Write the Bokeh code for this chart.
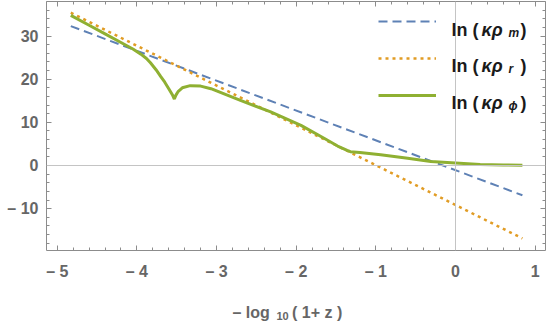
import numpy as np
from bokeh.plotting import figure
from bokeh.models import (Range1d, FixedTicker, LinearAxis, Span, Label,
                          Legend, LegendItem, CustomJSTickFormatter)
from bokeh.embed import file_html
from bokeh.resources import INLINE

# ---------------- data ----------------
x_m = [-4.83, 0.84]
y_m = [32.3, -6.9]

x_r = [-4.83, 0.84]
y_r = [35.4, -16.9]

x_phi = [-4.83, -4.60, -4.40, -4.20, -4.05, -3.95, -3.88, -3.83, -3.76,
         -3.70, -3.65, -3.60, -3.555, -3.53, -3.51, -3.48, -3.43, -3.33,
         -3.20, -3.07, -2.70, -2.32, -1.94, -1.65, -1.48, -1.36, -1.32,
         -1.20, -0.94, -0.60, -0.31, 0.00, 0.31, 0.60, 0.84]
y_phi = [34.8, 32.5, 30.5, 28.5, 27.0, 25.8, 24.8, 23.8, 22.2,
         20.6, 19.3, 17.8, 16.4, 15.4, 16.3, 17.2, 18.0, 18.5,
         18.4, 17.8, 15.1, 12.4, 9.3, 6.3, 4.5, 3.5, 3.2,
         3.0, 2.5, 1.7, 0.9, 0.6, 0.25, 0.12, 0.07]

x_major = [-5, -4, -3, -2, -1, 0, 1]
x_tick_labels = ["– 5", "– 4", "– 3", "– 2", "– 1", "0", "1"]
y_major = [-10, 0, 10, 20, 30]
y_tick_labels = ["– 10", "0", "10", "20", "30"]
x_title_main = "– log\u00a0\u00a0\u00a0\u00a0\u00a0( 1+ z )"
x_title_sub = "10"
legend_subs = ["m", "r", "ϕ"]

# ---------------- style ----------------
C_M = "#5E81B5"
C_R = "#E19C24"
C_P = "#8FB032"
AX = "#8c8c8c"
TICKC = "#666666"
FONT = "Liberation Sans"

FL, FB = 46, 250   # frame left / bottom in page pixels
H = 321

p = figure(width=548, height=H, output_backend="svg", toolbar_location=None,
           x_range=Range1d(-5.135, 1.13), y_range=Range1d(-19.7, 38.0),
           min_border_left=FL, min_border_right=3, min_border_top=1,
           min_border_bottom=H - FB, x_axis_location=None,
           y_axis_location=None)
p.outline_line_color = None
p.background_fill_color = "white"
p.border_fill_color = "white"
p.grid.visible = False

x_minor = [round(v, 1) for v in np.arange(-5.0, 1.01, 0.2)]
y_minor = list(range(-18, 39, 2))
xt = FixedTicker(ticks=x_major, minor_ticks=x_minor)
yt = FixedTicker(ticks=y_major, minor_ticks=y_minor)


def make_axis(ticker, labels, show):
    a = LinearAxis(ticker=ticker)
    a.axis_line_color = AX
    a.major_tick_line_color = AX
    a.minor_tick_line_color = AX
    a.major_tick_in = 5
    a.major_tick_out = 0
    a.minor_tick_in = 3
    a.minor_tick_out = 0
    if show:
        a.major_label_overrides = labels
        a.major_label_text_font = FONT
        a.major_label_text_font_style = "bold"
        a.major_label_text_font_size = "16px"
        a.major_label_text_color = TICKC
    else:
        a.formatter = CustomJSTickFormatter(code="return ''")
        a.major_label_text_font_size = "1px"
        a.major_label_standoff = 0
    return a


xb = make_axis(xt, dict(zip(x_major, x_tick_labels)), True)
xb.major_label_standoff = 12
yl = make_axis(yt, dict(zip(y_major, y_tick_labels)), True)
yl.major_label_standoff = 8
p.add_layout(xb, "below")
p.add_layout(yl, "left")
p.add_layout(make_axis(FixedTicker(ticks=x_major, minor_ticks=x_minor), {}, False), "above")
p.add_layout(make_axis(FixedTicker(ticks=y_major, minor_ticks=y_minor), {}, False), "right")

p.add_layout(Span(location=0, dimension="width", line_color="#c4c4c4", line_width=1))
p.add_layout(Span(location=0, dimension="height", line_color="#c4c4c4", line_width=1))

r_m = p.line(x_m, y_m, line_color=C_M, line_width=2, line_dash="9 5")
r_r = p.line(x_r, y_r, line_color=C_R, line_width=2.5, line_dash="3 4")
r_p = p.line(x_phi, y_phi, line_color=C_P, line_width=3)

leg = Legend(items=[LegendItem(label=" ", renderers=[r_m]),
                    LegendItem(label=" ", renderers=[r_r]),
                    LegendItem(label=" ", renderers=[r_p])],
             location=(378 - FL, FB - 105), glyph_width=58, glyph_height=20,
             spacing=17, padding=0, margin=0, border_line_color=None,
             background_fill_alpha=0, label_text_font_size="1px",
             label_standoff=0, label_width=1, label_height=1)
p.add_layout(leg)


def txt(s, px, y, size, style="bold", color="#1a1a1a", place="center"):
    lab = Label(x=px - FL, y=y, x_units="screen", y_units="screen",
                text=s, text_font=FONT, text_font_style=style,
                text_font_size=f"{size}px", text_color=color,
                text_baseline="alphabetic", text_align="left")
    p.add_layout(lab, place)


# legend texts (y measured from the frame bottom)
for i, sub in enumerate(legend_subs):
    base = 29 + i * 36.7
    txt("ln (", 451, FB - base, 18)
    txt("κρ", 481, FB - base, 18, "bold italic")
    txt(sub, 508, FB - base - 3, 12, "bold italic")
    txt(")", 520, FB - base, 18)

# x-axis title, in the bottom side panels (y relative to each panel)
txt(x_title_main, 232, -13, 16, "bold", TICKC, "below")
txt(x_title_sub, 276, -8, 11, "bold", TICKC, "below")

open("out.html", "w").write(file_html(p, INLINE))
